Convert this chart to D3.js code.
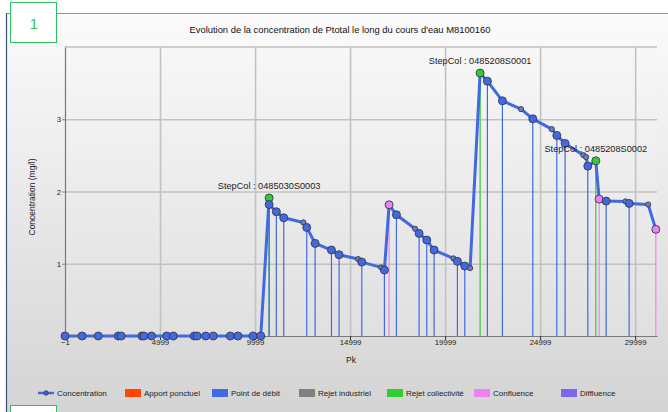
<!DOCTYPE html>
<html><head><meta charset="utf-8">
<script src="https://cdn.jsdelivr.net/npm/d3@7"></script>
<style>
html,body{margin:0;padding:0;background:#fff;}
svg{display:block;font-family:"Liberation Sans",Arial,sans-serif;}
</style></head>
<body>
<div id="chart"></div>
<script>
// ---------- DATA ----------
const title = "Evolution de la concentration de Ptotal le long du cours d'eau M8100160";
const xLabel = "Pk";
const yLabel = "Concentration (mg/l)";
const xTicks = [-1, 4999, 9999, 14999, 19999, 24999, 29999];
const yTicks = [1, 2, 3];

const pk = [0, 900, 1750, 2800, 2950, 4050, 4150, 4550, 5350, 5700, 6800, 6950, 7400, 7800, 8700, 9100, 9900, 10300,
  10740, 10740, 11120, 11510, 12540, 12720, 13160, 14020, 14420, 15420, 15615, 16632, 16806,
  17052, 17438, 18421, 18631, 19035, 19421, 20437, 20648, 21035, 21316,
  21842, 22226, 23016, 23999, 24614, 25615, 25878, 26315, 27280, 27420, 27509, 27930,
  28106, 28474, 29490, 29684, 30684, 31089];
const conc = [0, 0, 0, 0, 0, 0, 0, 0, 0, 0, 0, 0, 0, 0, 0, 0, 0, 0,
  1.91, 1.82, 1.72, 1.636, 1.572, 1.503, 1.282, 1.19, 1.125, 1.065, 1.023, 0.95, 0.913,
  1.816, 1.678, 1.484, 1.42, 1.328, 1.19, 1.074, 1.033, 0.968, 0.94,
  3.64, 3.527, 3.255, 3.14, 3.006, 2.863, 2.776, 2.665, 2.503, 2.476, 2.351, 2.425,
  1.895, 1.867, 1.863, 1.835, 1.82, 1.476];
// d = Point de débit, c = Rejet collectivité, f = Confluence, n = simple node
const ptype = ["d","d","d","d","d","d","d","d","d","d","d","d","d","d","d","d","d","d",
  "c","d","d","d","n","d","d","d","d","n","d","n","d",
  "f","d","n","d","d","d","n","d","d","n",
  "c","d","d","n","d","n","d","d","n","n","d","c",
  "f","d","n","d","n","f"];
const stepLabels = ["StepCol : 0485030S0003", "StepCol : 0485208S0001", "StepCol : 0485208S0002"];
const stepIndex = [18, 41, 52];

const legendNames = ["Concentration", "Apport ponctuel", "Point de débit", "Rejet industriel", "Rejet collectivité", "Confluence", "Diffluence"];
const legendColors = ["#4169E1", "#FF4500", "#4169E1", "#808080", "#32CD32", "#EE82EE", "#7B68EE"];

// ---------- STYLE ----------
const typeColor = {d:"#4169E1", c:"#32CD32", f:"#EE82EE", n:"#6a7ec0"};
const W = 668, H = 412;
const P = {l:65, r:657, t:47, b:336};

const svg = d3.select("#chart").append("svg").attr("width", W).attr("height", H);
const defs = svg.append("defs");
const g1 = defs.append("linearGradient").attr("id","bgG").attr("x1",0).attr("y1",0).attr("x2",0).attr("y2",1);
g1.append("stop").attr("offset","0%").attr("stop-color","#fbfbfb");
g1.append("stop").attr("offset","100%").attr("stop-color","#d4d4d4");
const g2 = defs.append("linearGradient").attr("id","plG").attr("x1",0).attr("y1",0).attr("x2",0).attr("y2",1);
g2.append("stop").attr("offset","0%").attr("stop-color","#f7f7f7");
g2.append("stop").attr("offset","100%").attr("stop-color","#e0e0e0");

// outer panel
svg.append("rect").attr("x",7).attr("y",13).attr("width",W-7).attr("height",H-13).attr("fill","url(#bgG)");
svg.append("line").attr("x1",7).attr("x2",W).attr("y1",13.5).attr("y2",13.5).attr("stroke","#8a97b3").attr("stroke-width",1);
svg.append("line").attr("x1",6.5).attr("x2",6.5).attr("y1",13).attr("y2",H).attr("stroke","#3e4f7c").attr("stroke-width",1.2);

// plot area
svg.append("rect").attr("x",P.l).attr("y",P.t).attr("width",P.r-P.l).attr("height",P.b-P.t).attr("fill","url(#plG)");

const x = d3.scaleLinear().domain([-1, 31150]).range([P.l, P.r]);
const y = d3.scaleLinear().domain([0, 4]).range([P.b, P.t]);

// grid
svg.append("g").attr("transform",`translate(0,${P.b})`)
  .call(d3.axisBottom(x).tickValues(xTicks).tickSize(-(P.b-P.t)).tickFormat(""))
  .call(g => { g.select(".domain").remove(); g.selectAll("line").attr("stroke","#c2c2c2").attr("stroke-width",1.6); });
svg.append("g").attr("transform",`translate(${P.l},0)`)
  .call(d3.axisLeft(y).tickValues(yTicks).tickSize(-(P.r-P.l)).tickFormat(""))
  .call(g => { g.select(".domain").remove(); g.selectAll("line").attr("stroke","#c2c2c2").attr("stroke-width",1.6); });
svg.append("line").attr("x1",P.l).attr("x2",P.r).attr("y1",P.t).attr("y2",P.t).attr("stroke","#c2c2c2").attr("stroke-width",1.6);

// axes
svg.append("g").attr("transform",`translate(0,${P.b})`)
  .call(d3.axisBottom(x).tickValues(xTicks).tickSize(4).tickSizeOuter(0).tickFormat(d3.format("d")))
  .call(g => { g.select(".domain").attr("stroke","#7a7a7a");
    g.selectAll("line").attr("stroke","#333");
    g.selectAll("text").attr("font-size","7.8px").attr("fill","#222").attr("dy","0.55em").attr("y",5); });
svg.append("g").attr("transform",`translate(${P.l},0)`)
  .call(d3.axisLeft(y).tickValues(yTicks).tickSize(3).tickSizeOuter(0).tickFormat(d3.format("d")))
  .call(g => { g.select(".domain").attr("stroke","#7a7a7a");
    g.selectAll("line").attr("stroke","#888");
    g.selectAll("text").attr("font-size","7.8px").attr("fill","#222").attr("x",-4); });

// vertical drop lines
const idx = d3.range(pk.length);
svg.append("g").selectAll("line").data(idx.filter(i => ptype[i] !== "n" && conc[i] > 0)).join("line")
  .attr("x1", i => x(pk[i])).attr("x2", i => x(pk[i]))
  .attr("y1", i => y(conc[i])).attr("y2", y(0))
  .attr("stroke", i => typeColor[ptype[i]]).attr("stroke-width", 1.2);

// concentration line
svg.append("path").datum(idx)
  .attr("d", d3.line().x(i => x(pk[i])).y(i => y(conc[i])))
  .attr("fill","none").attr("stroke","#4169E1").attr("stroke-width",3).attr("stroke-linejoin","round");

// points
svg.append("g").selectAll("circle").data(idx).join("circle")
  .attr("cx", i => x(pk[i])).attr("cy", i => y(conc[i]))
  .attr("r", i => ptype[i] === "n" ? 2.6 : 4)
  .attr("fill", i => typeColor[ptype[i]])
  .attr("stroke","#3a3a4a").attr("stroke-width",0.9);

// step labels
svg.append("g").selectAll("text").data(stepIndex).join("text")
  .attr("x", i => x(pk[i])).attr("y", i => y(conc[i]) - 9)
  .attr("text-anchor","middle").attr("font-size","9.2px").attr("fill","#222")
  .text((i, k) => stepLabels[k]);

// title & axis titles
svg.append("text").attr("x",340).attr("y",33).attr("text-anchor","middle")
  .attr("font-size","9.4px").attr("fill","#111").text(title);
svg.append("text").attr("x",351).attr("y",363).attr("text-anchor","middle")
  .attr("font-size","8.5px").attr("fill","#222").text(xLabel);
svg.append("text").attr("transform","translate(35,197) rotate(-90)").attr("text-anchor","middle")
  .attr("font-size","8.5px").attr("fill","#222").text(yLabel);

// legend
const legX = [38, 125, 212, 299, 387, 474, 561];
const lg = svg.append("g").selectAll("g").data(legendNames).join("g")
  .attr("transform", (d,i) => `translate(${legX[i]},393)`);
lg.each(function(d,i){
  const s = d3.select(this);
  if (i === 0) {
    s.append("line").attr("x1",0).attr("x2",16).attr("y1",0).attr("y2",0).attr("stroke",legendColors[i]).attr("stroke-width",2.5);
    s.append("circle").attr("cx",8).attr("cy",0).attr("r",2.2).attr("fill","#4169E1").attr("stroke","#333").attr("stroke-width",0.8);
  } else {
    s.append("rect").attr("x",0).attr("y",-4).attr("width",16).attr("height",8).attr("fill",legendColors[i]);
  }
  s.append("text").attr("x",19).attr("y",3).attr("font-size","8px").attr("fill","#222").text(d);
});

// panel number boxes
svg.append("rect").attr("x",10.5).attr("y",2.5).attr("width",46).attr("height",40).attr("fill","#fff").attr("stroke","#2fbf5f").attr("stroke-width",1);
svg.append("text").attr("x",34).attr("y",29).attr("text-anchor","middle").attr("font-size","15px").attr("fill","#2fbf5f").text("1");
svg.append("rect").attr("x",10.5).attr("y",405.5).attr("width",46).attr("height",20).attr("fill","#fff").attr("stroke","#2fbf5f").attr("stroke-width",1);
</script>
</body></html>
